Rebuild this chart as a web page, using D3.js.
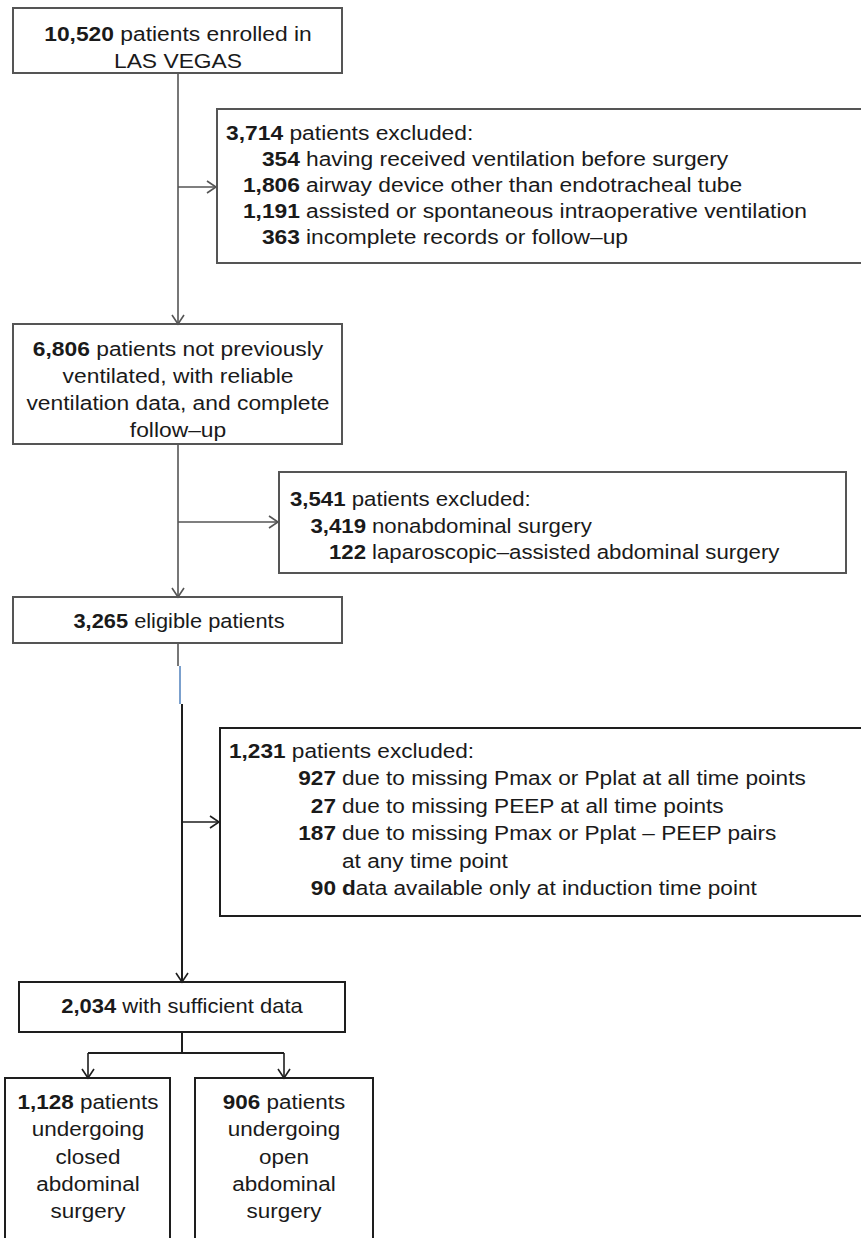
<!DOCTYPE html>
<html>
<head>
<meta charset="utf-8">
<script src="https://cdn.jsdelivr.net/npm/d3@7/dist/d3.min.js"></script>
<style>
  html, body { margin: 0; padding: 0; background: #fff; }
  svg { display: block; }
  text { font-family: "Liberation Sans", Arial, Helvetica, sans-serif; fill: #1a1a1a; }
</style>
</head>
<body>
<svg id="chart" width="861" height="1238"></svg>
<script>
// ---------- DATA (text content of the flow chart) ----------
const enrolledLines = ["**10,520** patients enrolled in", "LAS VEGAS"];
const exclA_title = "**3,714** patients excluded:";
const exclA_nums = ["354", "1,806", "1,191", "363"];
const exclA_reasons = [
  "having received ventilation before surgery",
  "airway device other than endotracheal tube",
  "assisted or spontaneous intraoperative ventilation",
  "incomplete records or follow\u2013up"
];
const cohortLines = ["**6,806** patients not previously", "ventilated, with reliable", "ventilation data, and complete", "follow\u2013up"];
const exclB_title = "**3,541** patients excluded:";
const exclB_nums = ["3,419", "122"];
const exclB_reasons = ["nonabdominal surgery", "laparoscopic\u2013assisted abdominal surgery"];
const eligibleLines = ["**3,265** eligible patients"];
const exclC_title = "**1,231** patients excluded:";
const exclC_nums = ["927", "27", "187", "", "90"];
const exclC_reasons = [
  "due to missing Pmax or Pplat at all time points",
  "due to missing PEEP at all time points",
  "due to missing Pmax or Pplat \u2013 PEEP pairs",
  "at any time point",
  "**d**ata available only at induction time point"
];
const sufficientLines = ["**2,034** with sufficient data"];
const closedLines = ["**1,128** patients", "undergoing", "closed", "abdominal", "surgery"];
const openLines = ["**906** patients", "undergoing", "open", "abdominal", "surgery"];

// ---------- LAYOUT ----------
const svg = d3.select("#chart");
const GRAY = "#555", DARK = "#1e1e1e", BLUE = "#4f81bd";

function rich(sel, str) {
  const parts = str.split("**");
  parts.forEach((p, i) => {
    if (!p) return;
    sel.append("tspan").attr("font-weight", i % 2 ? "bold" : "normal").text(p);
  });
}
function label(x, y, str, opt) {
  const g = svg.append("g").attr("transform", `translate(${x},${y}) scale(${opt.sx},1)`);
  const t = g.append("text").attr("x", 0).attr("y", 0)
    .attr("font-size", opt.fs).attr("text-anchor", opt.anchor || "start");
  rich(t, str);
  return t;
}
function box(x0, y0, x1, y1, color) {
  svg.append("rect").attr("x", x0).attr("y", y0).attr("width", x1 - x0).attr("height", y1 - y0)
    .attr("fill", "none").attr("stroke", color).attr("stroke-width", 2);
}
function line(pts, color, w) {
  svg.append("path").attr("d", d3.line()(pts)).attr("fill", "none")
    .attr("stroke", color).attr("stroke-width", w || 1.6);
}
function arrowHead(x, y, dir, color) {
  const L = 9, H = 6;
  const pts = dir === "down" ? [[x - H, y - L], [x, y], [x + H, y - L]]
                             : [[x - L, y - H], [x, y], [x - L, y + H]];
  line(pts, color, 1.6);
}
function centered(lines, cx, y0, step, opt) {
  lines.forEach((s, i) => label(cx, y0 + i * step, s, Object.assign({ anchor: "middle" }, opt)));
}
function excluded(title, nums, reasons, tx, ty, numEnd, step, opt) {
  label(tx, ty, title, opt);
  nums.forEach((n, i) => {
    const y = ty + (i + 1) * step;
    if (n) label(numEnd, y, "**" + n + "**", Object.assign({ anchor: "end" }, opt));
    label(numEnd + 6, y, reasons[i], opt);
  });
}

const upper = { fs: 19.5, sx: 1.17 };

// connectors (drawn first)
line([[178, 73], [178, 324]], GRAY); arrowHead(178, 324, "down", GRAY);
line([[178, 187], [217, 187]], GRAY); arrowHead(216, 187, "right", GRAY);
line([[178, 444], [178, 597]], GRAY); arrowHead(178, 597, "down", GRAY);
line([[178, 522], [279, 522]], GRAY); arrowHead(278, 522, "right", GRAY);
line([[178, 643], [178, 666]], GRAY);
line([[180, 666], [180, 704]], BLUE, 1.5);
line([[182, 704], [182, 982]], DARK, 2); arrowHead(182, 982, "down", DARK);
line([[182, 822], [220, 822]], DARK); arrowHead(219, 822, "right", DARK);
line([[182, 1032], [182, 1053]], DARK, 2);
line([[88, 1053], [284, 1053]], DARK, 2);
line([[88, 1053], [88, 1078]], DARK); arrowHead(88, 1078, "down", DARK);
line([[284, 1053], [284, 1078]], DARK); arrowHead(284, 1078, "down", DARK);

// boxes
box(13, 8, 342, 73, GRAY);
centered(enrolledLines, 178, 41, 27, upper);

box(217, 109, 880, 263, GRAY);
excluded(exclA_title, exclA_nums, exclA_reasons, 226, 140, 300, 26, upper);

box(13, 324, 342, 444, GRAY);
centered(cohortLines, 178, 356, 27, upper);

box(279, 472, 846, 573, GRAY);
excluded(exclB_title, exclB_nums, exclB_reasons, 290, 506, 366, 26.5, { fs: 19.5, sx: 1.14 });

box(13, 597, 342, 643, GRAY);
centered(eligibleLines, 179, 628, 27, { fs: 19.5, sx: 1.12 });

box(220, 728, 880, 916, DARK);
excluded(exclC_title, exclC_nums, exclC_reasons, 229, 758, 336, 27.4, { fs: 19.5, sx: 1.16 });

box(19, 982, 345, 1032, DARK);
centered(sufficientLines, 182, 1013, 27, { fs: 20, sx: 1.1 });

box(5, 1078, 170, 1260, DARK);
centered(closedLines, 88, 1109, 27.3, { fs: 21, sx: 1.07 });
box(195, 1078, 373, 1260, DARK);
centered(openLines, 284, 1109, 27.3, { fs: 21, sx: 1.07 });
</script>
</body>
</html>
